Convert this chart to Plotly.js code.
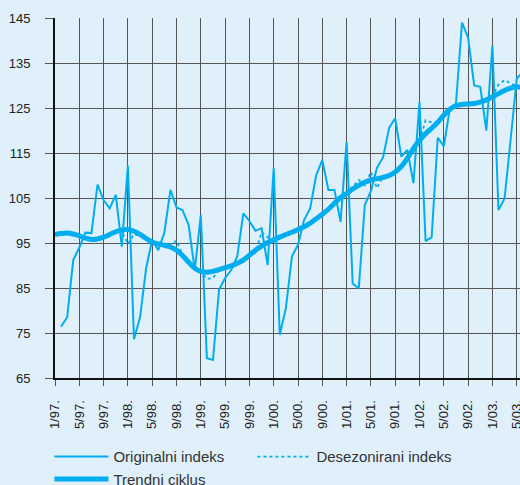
<!DOCTYPE html>
<html>
<head>
<meta charset="utf-8">
<script src="https://cdn.plot.ly/plotly-3.0.1.min.js"></script>
<style>
html,body{margin:0;padding:0;background:#dff0fa;overflow:hidden;}
#chart{width:520px;height:485px;}
</style>
</head>
<body>
<div id="chart"></div>
<script>
// Month index 0 = 1/97
const originalStart = 1;
const originalIndex = [
  76.4, 78.5, 91.2, 94.0, 97.3, 97.2, 108.0, 104.5, 102.7, 105.7, 94.2, 112.2,
  73.6, 78.5, 89.4, 95.7, 93.4, 97.3, 106.8, 102.9, 102.3, 99.0, 89.0, 101.2,
  69.4, 69.0, 84.6, 87.2, 89.0, 92.0, 101.6, 99.9, 97.7, 98.3, 90.1, 111.6,
  74.6, 80.5, 92.0, 94.6, 100.1, 102.7, 110.1, 113.4, 106.8, 106.8, 99.7, 117.5,
  86.0, 84.9, 103.5, 106.5, 111.7, 114.0, 120.6, 122.7, 114.2, 115.7, 108.3, 126.3,
  95.4, 96.3, 118.4, 116.5, 124.9, 126.0, 144.0, 140.6, 130.0, 129.7, 120.0, 138.9,
  102.3, 104.9, 118.0, 131.5, 133.0
];

const desezStart = 1;
const desezIndex = [
  97.0, 97.2, 97.0, 96.5, 96.2, 95.6, 96.0, 96.4, 96.8, 97.6, 97.5, 94.8,
  96.9, 96.6, 96.1, 95.0, 94.9, 94.4, 94.7, 95.5, 92.4, 90.8, 89.2, 88.6,
  87.0, 87.2, 89.0, 89.6, 90.0, 90.6, 91.2, 92.3, 92.8, 97.4, 96.3, 95.5,
  96.4, 96.8, 97.5, 98.1, 98.5, 99.5, 100.3, 101.5, 102.4, 103.9, 105.0, 106.2,
  107.5, 109.0, 107.8, 110.8, 107.2, 109.8, 110.1, 110.6, 112.2, 113.6, 116.2, 117.6,
  122.3, 121.8, 121.9, 123.2, 124.2, 125.6, 125.7, 126.0, 125.8, 126.4, 126.6, 127.6,
  130.2, 131.2, 130.5, 129.8, 129.4
];

const trendStart = 0;
const trendIndex = [
  96.9, 97.1, 97.2, 97.0, 96.6, 96.1, 95.8, 95.9, 96.3, 96.9, 97.5, 97.9,
  98.0, 97.6, 96.9, 96.0, 95.2, 94.8, 94.5, 94.1, 93.4, 92.2, 90.7, 89.4,
  88.7, 88.5, 88.7, 89.1, 89.5, 89.9, 90.5, 91.2, 92.3, 93.4, 94.3, 95.1,
  95.7, 96.3, 96.9, 97.4, 98.0, 98.6, 99.4, 100.4, 101.4, 102.5, 103.8, 105.1,
  106.0, 107.0, 107.8, 108.5, 109.0, 109.3, 109.6, 110.0, 110.8, 112.0, 113.8, 116.0,
  117.8, 119.3, 120.5, 121.8, 123.4, 124.7, 125.5, 125.8, 125.9, 126.0, 126.3, 126.8,
  127.5, 128.2, 128.9, 129.4, 129.7, 129.5
];

const tickPositions = [0,4,8,12,16,20,24,28,32,36,40,44,48,52,56,60,64,68,72,76];
const tickLabels = ['1/97.','5/97.','9/97.','1/98.','5/98.','9/98.','1/99.','5/99.','9/99.','1/00.',
  '5/00.','9/00.','1/01.','5/01.','9/01.','1/02.','5/02.','9/02.','1/03.','5/03.'];

const seriesNames = ['Originalni indeks', 'Desezonirani indeks', 'Trendni ciklus'];

const xs = (start, arr) => arr.map((_, i) => start + i);
const cyan = '#00aeef';

const traces = [
  {x: xs(originalStart, originalIndex), y: originalIndex, name: seriesNames[0], type: 'scatter', mode: 'lines',
   line: {color: cyan, width: 2}},
  {x: xs(desezStart, desezIndex), y: desezIndex, name: seriesNames[1], type: 'scatter', mode: 'lines',
   line: {color: cyan, width: 1.8, dash: 'dot'}},
  {x: xs(trendStart, trendIndex), y: trendIndex, name: seriesNames[2], type: 'scatter', mode: 'lines',
   line: {color: cyan, width: 5, shape: 'spline'}}
];

const font = {family: 'Liberation Sans, Arial, sans-serif', color: '#222'};

const layout = {
  width: 520, height: 485,
  margin: {l: 55, r: 0, t: 18, b: 107, autoexpand: false},
  paper_bgcolor: '#dff0fa',
  plot_bgcolor: '#dff0fa',
  font: font,
  showlegend: true,
  legend: {
    orientation: 'h', x: -0.012, xanchor: 'left', y: -0.173, yanchor: 'top',
    font: {family: font.family, size: 15, color: '#333'},
    entrywidth: 134, entrywidthmode: 'pixels', itemwidth: 54,
    bgcolor: 'rgba(0,0,0,0)', tracegroupgap: 0, traceorder: 'normal'
  },
  xaxis: {
    range: [0, 76.54], tickmode: 'array', tickvals: tickPositions, ticktext: tickLabels,
    tickangle: -90, tickfont: {size: 13, color: '#222', family: font.family},
    ticklabeloverflow: 'allow', ticklabelstandoff: 9,
    showgrid: true, gridcolor: '#555', gridwidth: 1,
    ticks: 'outside', ticklen: 6, tickcolor: '#555', tickwidth: 1,
    showline: true, linecolor: '#111', linewidth: 2, zeroline: false, fixedrange: true
  },
  yaxis: {
    range: [65, 145], tickmode: 'linear', tick0: 65, dtick: 10,
    tickfont: {size: 13, color: '#222', family: font.family},
    showgrid: true, gridcolor: '#555', gridwidth: 1,
    ticks: 'outside', ticklen: 8, tickcolor: '#555', tickwidth: 1,
    ticklabelstandoff: 12,
    showline: true, linecolor: '#111', linewidth: 2, zeroline: false, fixedrange: true
  }
};

Plotly.newPlot('chart', traces, layout, {displayModeBar: false, staticPlot: true});
</script>
</body>
</html>
